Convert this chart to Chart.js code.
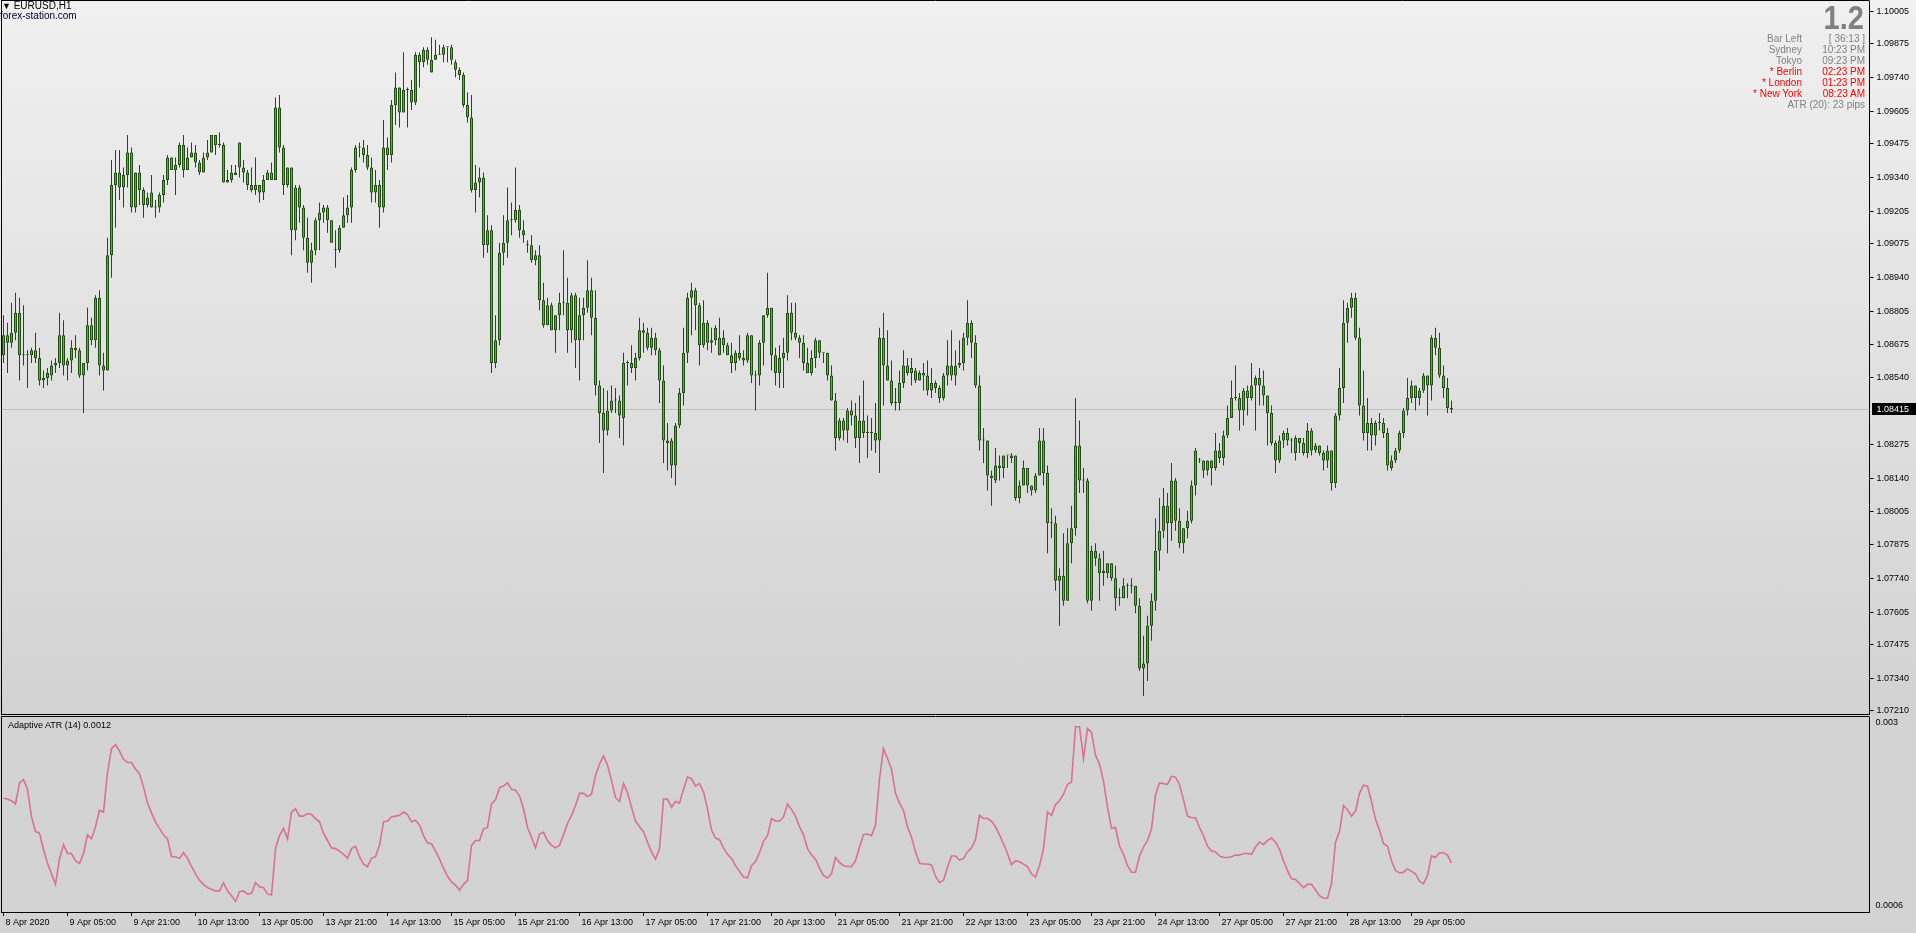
<!DOCTYPE html>
<html>
<head>
<meta charset="utf-8">
<title>EURUSD,H1</title>
<script src="https://cdn.jsdelivr.net/npm/chart.js@4.4.1/dist/chart.umd.min.js"></script>
<style>
  html, body { margin: 0; padding: 0; }
  body {
    width: 1916px; height: 933px; overflow: hidden; position: relative;
    background: #d3d3d3;
    font-family: "Liberation Sans", Arial, sans-serif;
  }
  #bg { position: absolute; left: 0; top: 0; width: 1916px; height: 716px;
        background: linear-gradient(#f0f0f0, #d2d2d2); }
  canvas { position: absolute; left: 0; }
  #priceChart { top: 0; }
  #atrChart { top: 716px; }
  .txt { position: absolute; white-space: nowrap; font-size: 10px; line-height: 11px; }
  .col { position: absolute; text-align: right; font-size: 10px; line-height: 11px; white-space: nowrap; }
  .gray { color: #808080; }
  .red { color: #ff0000; }
</style>
</head>
<body>
<div id="bg"></div>
<canvas id="priceChart" width="1916" height="716"></canvas>
<canvas id="atrChart" width="1916" height="217"></canvas>

<div class="txt" style="left:2px;top:0px;color:#000;"><span style="font-size:9px;">▼</span> EURUSD,H1</div>
<div class="txt" style="left:0px;top:10px;color:#000033;">forex-station.com</div>

<div class="txt" style="right:52px;top:1px;font-size:33px;line-height:34px;font-weight:bold;color:#808080;transform:scaleX(0.88);transform-origin:right center;">1.2</div>
<div class="col" style="right:114px;top:33px;">
  <div class="gray">Bar Left</div>
  <div class="gray">Sydney</div>
  <div class="gray">Tokyo</div>
  <div class="red">* Berlin</div>
  <div class="red">* London</div>
  <div class="red">* New York</div>
</div>
<div class="col" style="right:51px;top:33px;">
  <div class="gray">[ 36:13 ]</div>
  <div class="gray">10:23 PM</div>
  <div class="gray">09:23 PM</div>
  <div class="red">02:23 PM</div>
  <div class="red">01:23 PM</div>
  <div class="red">08:23 AM</div>
  <div class="gray">ATR (20): 23 pips</div>
</div>

<div class="txt" style="left:8px;top:720px;font-size:9px;color:#000;">Adaptive ATR (14) 0.0012</div>

<script>
// hourly bars, 8 Apr 2020 13:00 .. 29 Apr 2020
const opens = [
  1.0863,1.0871,1.0868,1.0872,1.0880,1.0863,1.0863,1.0863,1.0865,1.0862,
  1.0853,1.0854,1.0855,1.0859,1.0860,1.0871,1.0859,1.0861,1.0866,1.0865,
  1.0855,1.0860,1.0875,1.0869,1.0886,1.0859,1.0857,1.0903,1.0931,1.0936,
  1.0930,1.0935,1.0944,1.0922,1.0936,1.0929,1.0923,1.0928,1.0922,1.0922,
  1.0927,1.0933,1.0942,1.0937,1.0939,1.0947,1.0937,1.0942,1.0944,1.0940,
  1.0936,1.0942,1.0944,1.0951,1.0947,1.0947,1.0932,1.0933,1.0935,1.0938,
  1.0938,1.0936,1.0931,1.0929,1.0931,1.0928,1.0933,1.0936,1.0933,1.0962,
  1.0946,1.0931,1.0938,1.0913,1.0930,1.0922,1.0910,1.0900,1.0905,1.0917,
  1.0920,1.0922,1.0917,1.0905,1.0905,1.0914,1.0919,1.0922,1.0937,1.0946,
  1.0946,1.0943,1.0938,1.0928,1.0931,1.0922,1.0946,1.0943,1.0963,1.0970,
  1.0960,1.0969,1.0964,1.0964,1.0983,1.0980,1.0985,1.0976,1.0981,1.0983,
  1.0983,1.0986,1.0986,1.0980,1.0977,1.0975,1.0963,1.0958,1.0929,1.0932,
  1.0934,1.0907,1.0913,1.0860,1.0869,1.0904,1.0908,1.0917,1.0917,1.0921,
  1.0913,1.0907,1.0907,1.0901,1.0903,1.0885,1.0875,1.0883,1.0873,1.0879,
  1.0884,1.0884,1.0873,1.0887,1.0869,1.0879,1.0882,1.0889,1.0878,1.0851,
  1.0840,1.0833,1.0841,1.0845,1.0845,1.0838,1.0860,1.0860,1.0858,1.0862,
  1.0872,1.0872,1.0866,1.0870,1.0865,1.0853,1.0828,1.0829,1.0819,1.0835,
  1.0848,1.0864,1.0886,1.0889,1.0883,1.0867,1.0876,1.0868,1.0869,1.0863,
  1.0870,1.0867,1.0863,1.0860,1.0864,1.0862,1.0861,1.0871,1.0855,1.0855,
  1.0868,1.0879,1.0882,1.0863,1.0856,1.0862,1.0864,1.0880,1.0872,1.0870,
  1.0868,1.0860,1.0856,1.0862,1.0869,1.0864,1.0864,1.0855,1.0845,1.0830,
  1.0837,1.0833,1.0841,1.0839,1.0830,1.0837,1.0832,1.0832,1.0832,1.0829,
  1.0870,1.0859,1.0853,1.0844,1.0844,1.0852,1.0859,1.0858,1.0857,1.0853,
  1.0856,1.0855,1.0849,1.0852,1.0850,1.0846,1.0855,1.0859,1.0855,1.0859,
  1.0860,1.0870,1.0876,1.0868,1.0851,1.0829,1.0829,1.0815,1.0813,1.0819,
  1.0818,1.0823,1.0822,1.0823,1.0806,1.0811,1.0818,1.0811,1.0809,1.0815,
  1.0829,1.0816,1.0796,1.0796,1.0773,1.0775,1.0765,1.0788,1.0794,1.0827,
  1.0813,1.0813,1.0765,1.0785,1.0782,1.0776,1.0776,1.0780,1.0774,1.0766,
  1.0766,1.0771,1.0771,1.0771,1.0763,1.0738,1.0740,1.0755,1.0765,1.0785,
  1.0793,1.0803,1.0796,1.0813,1.0797,1.0788,1.0794,1.0797,1.0811,1.0821,
  1.0821,1.0817,1.0821,1.0818,1.0825,1.0822,1.0831,1.0838,1.0846,1.0846,
  1.0841,1.0849,1.0846,1.0851,1.0854,1.0851,1.0847,1.0840,1.0828,1.0821,
  1.0829,1.0832,1.0829,1.0824,1.0830,1.0828,1.0824,1.0833,1.0825,1.0827,
  1.0824,1.0821,1.0825,1.0812,1.0839,1.0850,1.0876,1.0882,1.0886,1.0870,
  1.0843,1.0832,1.0836,1.0831,1.0836,1.0836,1.0832,1.0818,1.0821,1.0825,
  1.0832,1.0841,1.0846,1.0851,1.0846,1.0849,1.0855,1.0851,1.0870,1.0866,
  1.0855,1.0850,1.0842
];
const highs = [
  1.0879,1.0876,1.0884,1.0888,1.0886,1.0883,1.0865,1.0866,1.0872,1.0866,
  1.0857,1.0858,1.0861,1.0862,1.0880,1.0877,1.0862,1.0869,1.0871,1.0866,
  1.0860,1.0882,1.0878,1.0887,1.0889,1.0864,1.0910,1.0941,1.0945,1.0945,
  1.0938,1.0951,1.0946,1.0936,1.0939,1.0930,1.0928,1.0935,1.0925,1.0928,
  1.0935,1.0943,1.0942,1.0942,1.0948,1.0951,1.0946,1.0948,1.0947,1.0941,
  1.0944,1.0949,1.0951,1.0951,1.0952,1.0948,1.0937,1.0939,1.0939,1.0948,
  1.0941,1.0937,1.0938,1.0942,1.0931,1.0935,1.0937,1.0940,1.0966,1.0967,
  1.0947,1.0938,1.0938,1.0931,1.0931,1.0923,1.0918,1.0908,1.0918,1.0924,
  1.0923,1.0923,1.0917,1.0913,1.0915,1.0926,1.0927,1.0938,1.0947,1.0948,
  1.0949,1.0947,1.0942,1.0937,1.0933,1.0957,1.0950,1.0965,1.0976,1.0970,
  1.0984,1.0970,1.0973,1.0984,1.0984,1.0986,1.0986,1.0990,1.0989,1.0987,
  1.0987,1.0986,1.0987,1.0981,1.0978,1.0976,1.0968,1.0967,1.0939,1.0938,
  1.0936,1.0919,1.0915,1.0879,1.0908,1.0919,1.0930,1.0924,1.0938,1.0923,
  1.0917,1.0909,1.0911,1.0905,1.0907,1.0892,1.0886,1.0884,1.0879,1.0888,
  1.0905,1.0894,1.0888,1.0888,1.0886,1.0886,1.0901,1.0894,1.0889,1.0853,
  1.0850,1.0849,1.0851,1.0850,1.0847,1.0864,1.0861,1.0867,1.0864,1.0878,
  1.0876,1.0874,1.0874,1.0872,1.0866,1.0859,1.0836,1.0830,1.0836,1.0850,
  1.0874,1.0888,1.0892,1.0890,1.0884,1.0885,1.0877,1.0874,1.0875,1.0878,
  1.0873,1.0868,1.0868,1.0865,1.0871,1.0865,1.0872,1.0871,1.0857,1.0869,
  1.0879,1.0896,1.0882,1.0866,1.0867,1.0870,1.0887,1.0884,1.0884,1.0871,
  1.0871,1.0866,1.0865,1.0870,1.0869,1.0864,1.0864,1.0859,1.0848,1.0838,
  1.0838,1.0842,1.0845,1.0844,1.0847,1.0853,1.0839,1.0838,1.0844,1.0874,
  1.0880,1.0873,1.0861,1.0850,1.0857,1.0865,1.0862,1.0862,1.0858,1.0857,
  1.0860,1.0861,1.0858,1.0853,1.0851,1.0856,1.0869,1.0873,1.0865,1.0869,
  1.0872,1.0885,1.0877,1.0871,1.0855,1.0834,1.0829,1.0817,1.0826,1.0823,
  1.0823,1.0823,1.0824,1.0823,1.0813,1.0821,1.0818,1.0811,1.0816,1.0834,
  1.0834,1.0819,1.0802,1.0799,1.0778,1.0792,1.0794,1.0803,1.0846,1.0837,
  1.0818,1.0814,1.0787,1.0788,1.0784,1.0785,1.0780,1.0780,1.0779,1.0770,
  1.0774,1.0772,1.0774,1.0771,1.0766,1.0751,1.0759,1.0768,1.0798,1.0806,
  1.0810,1.0808,1.0820,1.0814,1.0802,1.0794,1.0801,1.0813,1.0826,1.0822,
  1.0821,1.0821,1.0821,1.0832,1.0828,1.0833,1.0843,1.0853,1.0859,1.0848,
  1.0850,1.0851,1.0860,1.0855,1.0858,1.0857,1.0847,1.0843,1.0829,1.0831,
  1.0833,1.0834,1.0830,1.0831,1.0830,1.0830,1.0836,1.0834,1.0828,1.0827,
  1.0825,1.0827,1.0825,1.0840,1.0858,1.0885,1.0884,1.0888,1.0888,1.0874,
  1.0857,1.0846,1.0838,1.0837,1.0840,1.0838,1.0834,1.0823,1.0826,1.0833,
  1.0842,1.0854,1.0853,1.0851,1.0850,1.0856,1.0855,1.0871,1.0874,1.0872,
  1.0859,1.0854,1.0845
];
const lows = [
  1.0860,1.0856,1.0866,1.0869,1.0853,1.0859,1.0850,1.0860,1.0860,1.0851,
  1.0850,1.0851,1.0853,1.0856,1.0858,1.0855,1.0853,1.0856,1.0862,1.0854,
  1.0840,1.0857,1.0867,1.0866,1.0855,1.0849,1.0857,1.0894,1.0914,1.0925,
  1.0922,1.0930,1.0920,1.0920,1.0923,1.0918,1.0922,1.0922,1.0918,1.0920,
  1.0924,1.0931,1.0937,1.0927,1.0938,1.0934,1.0937,1.0942,1.0938,1.0935,
  1.0936,1.0941,1.0944,1.0943,1.0946,1.0932,1.0932,1.0932,1.0935,1.0934,
  1.0932,1.0929,1.0928,1.0927,1.0924,1.0925,1.0933,1.0933,1.0933,1.0944,
  1.0927,1.0930,1.0903,1.0909,1.0916,1.0905,1.0896,1.0892,1.0903,1.0905,
  1.0916,1.0912,1.0908,1.0898,1.0904,1.0914,1.0916,1.0916,1.0936,1.0942,
  1.0940,1.0937,1.0924,1.0924,1.0914,1.0920,1.0937,1.0940,1.0955,1.0954,
  1.0960,1.0954,1.0961,1.0963,1.0970,1.0978,1.0979,1.0976,1.0981,1.0983,
  1.0980,1.0980,1.0979,1.0974,1.0973,1.0962,1.0956,1.0928,1.0920,1.0926,
  1.0902,1.0904,1.0856,1.0858,1.0867,1.0899,1.0902,1.0911,1.0916,1.0910,
  1.0908,1.0904,1.0900,1.0899,1.0881,1.0874,1.0875,1.0873,1.0864,1.0873,
  1.0879,1.0864,1.0868,1.0858,1.0853,1.0869,1.0880,1.0871,1.0847,1.0828,
  1.0816,1.0831,1.0840,1.0840,1.0830,1.0827,1.0851,1.0856,1.0853,1.0861,
  1.0864,1.0865,1.0863,1.0863,1.0844,1.0820,1.0817,1.0814,1.0811,1.0834,
  1.0843,1.0860,1.0871,1.0873,1.0859,1.0866,1.0865,1.0864,1.0867,1.0863,
  1.0864,1.0863,1.0856,1.0857,1.0861,1.0859,1.0860,1.0852,1.0841,1.0851,
  1.0859,1.0878,1.0857,1.0851,1.0850,1.0850,1.0861,1.0869,1.0869,1.0862,
  1.0857,1.0856,1.0855,1.0858,1.0862,1.0860,1.0853,1.0845,1.0825,1.0829,
  1.0829,1.0828,1.0835,1.0826,1.0820,1.0830,1.0822,1.0825,1.0824,1.0816,
  1.0843,1.0853,1.0843,1.0841,1.0841,1.0850,1.0855,1.0851,1.0852,1.0853,
  1.0849,1.0847,1.0846,1.0848,1.0844,1.0845,1.0851,1.0853,1.0851,1.0858,
  1.0857,1.0867,1.0862,1.0850,1.0825,1.0820,1.0809,1.0803,1.0812,1.0813,
  1.0814,1.0818,1.0820,1.0805,1.0804,1.0811,1.0808,1.0807,1.0808,1.0815,
  1.0811,1.0784,1.0790,1.0769,1.0755,1.0763,1.0765,1.0780,1.0791,1.0808,
  1.0808,1.0764,1.0761,1.0779,1.0765,1.0771,1.0774,1.0773,1.0761,1.0763,
  1.0766,1.0766,1.0768,1.0760,1.0737,1.0727,1.0733,1.0749,1.0761,1.0777,
  1.0790,1.0784,1.0789,1.0793,1.0786,1.0784,1.0790,1.0796,1.0807,1.0820,
  1.0814,1.0815,1.0811,1.0817,1.0820,1.0819,1.0830,1.0838,1.0845,1.0833,
  1.0835,1.0839,1.0845,1.0833,1.0843,1.0843,1.0827,1.0827,1.0816,1.0820,
  1.0826,1.0827,1.0824,1.0821,1.0824,1.0823,1.0822,1.0823,1.0824,1.0823,
  1.0817,1.0818,1.0809,1.0810,1.0837,1.0844,1.0868,1.0878,1.0869,1.0839,
  1.0829,1.0825,1.0825,1.0827,1.0833,1.0830,1.0817,1.0817,1.0820,1.0824,
  1.0830,1.0839,1.0844,1.0841,1.0843,1.0848,1.0839,1.0845,1.0863,1.0854,
  1.0846,1.0840,1.0840
];
const closes = [
  1.0871,1.0868,1.0872,1.0880,1.0863,1.0863,1.0863,1.0865,1.0862,1.0853,
  1.0854,1.0856,1.0859,1.0860,1.0871,1.0859,1.0861,1.0866,1.0865,1.0855,
  1.0860,1.0875,1.0869,1.0886,1.0859,1.0857,1.0903,1.0931,1.0936,1.0930,
  1.0935,1.0944,1.0922,1.0936,1.0929,1.0923,1.0926,1.0922,1.0922,1.0927,
  1.0933,1.0942,1.0937,1.0939,1.0947,1.0937,1.0942,1.0944,1.0940,1.0936,
  1.0942,1.0944,1.0951,1.0947,1.0947,1.0932,1.0933,1.0936,1.0936,1.0948,
  1.0936,1.0931,1.0929,1.0931,1.0928,1.0933,1.0936,1.0933,1.0962,1.0946,
  1.0931,1.0938,1.0913,1.0930,1.0922,1.0910,1.0900,1.0905,1.0917,1.0920,
  1.0922,1.0917,1.0908,1.0905,1.0914,1.0919,1.0922,1.0937,1.0946,1.0946,
  1.0943,1.0938,1.0928,1.0931,1.0922,1.0946,1.0943,1.0963,1.0970,1.0960,
  1.0969,1.0969,1.0969,1.0983,1.0980,1.0985,1.0981,1.0981,1.0983,1.0983,
  1.0986,1.0986,1.0981,1.0977,1.0975,1.0963,1.0958,1.0929,1.0932,1.0934,
  1.0907,1.0913,1.0860,1.0869,1.0904,1.0908,1.0917,1.0917,1.0921,1.0913,
  1.0911,1.0907,1.0901,1.0903,1.0885,1.0875,1.0883,1.0873,1.0879,1.0884,
  1.0884,1.0873,1.0887,1.0869,1.0879,1.0882,1.0889,1.0878,1.0851,1.0840,
  1.0833,1.0841,1.0845,1.0845,1.0839,1.0860,1.0860,1.0858,1.0862,1.0873,
  1.0873,1.0866,1.0870,1.0865,1.0853,1.0829,1.0829,1.0819,1.0835,1.0848,
  1.0864,1.0886,1.0889,1.0883,1.0867,1.0876,1.0868,1.0869,1.0874,1.0870,
  1.0867,1.0863,1.0860,1.0864,1.0862,1.0861,1.0871,1.0855,1.0855,1.0868,
  1.0879,1.0882,1.0863,1.0856,1.0862,1.0864,1.0880,1.0872,1.0870,1.0868,
  1.0860,1.0856,1.0862,1.0869,1.0864,1.0864,1.0855,1.0845,1.0830,1.0837,
  1.0833,1.0841,1.0839,1.0830,1.0837,1.0832,1.0832,1.0832,1.0829,1.0870,
  1.0859,1.0853,1.0844,1.0844,1.0852,1.0859,1.0856,1.0856,1.0853,1.0856,
  1.0855,1.0849,1.0852,1.0850,1.0846,1.0855,1.0859,1.0855,1.0859,1.0860,
  1.0870,1.0876,1.0868,1.0851,1.0829,1.0829,1.0815,1.0814,1.0819,1.0818,
  1.0823,1.0823,1.0823,1.0806,1.0811,1.0818,1.0811,1.0809,1.0815,1.0829,
  1.0816,1.0796,1.0796,1.0773,1.0775,1.0765,1.0788,1.0794,1.0827,1.0813,
  1.0813,1.0765,1.0785,1.0782,1.0776,1.0777,1.0780,1.0774,1.0766,1.0766,
  1.0771,1.0771,1.0771,1.0763,1.0738,1.0740,1.0755,1.0765,1.0785,1.0793,
  1.0803,1.0796,1.0813,1.0797,1.0788,1.0794,1.0797,1.0811,1.0825,1.0821,
  1.0817,1.0821,1.0818,1.0825,1.0822,1.0831,1.0838,1.0846,1.0846,1.0841,
  1.0849,1.0846,1.0851,1.0854,1.0851,1.0847,1.0840,1.0828,1.0821,1.0829,
  1.0832,1.0829,1.0829,1.0830,1.0828,1.0824,1.0833,1.0825,1.0827,1.0824,
  1.0821,1.0825,1.0812,1.0839,1.0850,1.0876,1.0882,1.0886,1.0870,1.0843,
  1.0832,1.0836,1.0831,1.0836,1.0836,1.0832,1.0819,1.0821,1.0825,1.0832,
  1.0841,1.0846,1.0851,1.0846,1.0849,1.0855,1.0851,1.0870,1.0866,1.0855,
  1.0850,1.0842,1.08415
];
// Adaptive ATR (14)
const atr = [
  0.00200,0.00199,0.00197,0.00193,0.00219,0.00223,0.00211,0.00177,0.00159,0.00157,
  0.00137,0.00120,0.00107,0.00094,0.00125,0.00143,0.00132,0.00132,0.00123,0.00120,
  0.00132,0.00155,0.00150,0.00165,0.00185,0.00183,0.00232,0.00261,0.00266,0.00258,
  0.00248,0.00244,0.00244,0.00236,0.00230,0.00214,0.00194,0.00182,0.00171,0.00163,
  0.00155,0.00150,0.00128,0.00128,0.00126,0.00133,0.00126,0.00116,0.00107,0.00099,
  0.00094,0.00090,0.00088,0.00086,0.00086,0.00096,0.00086,0.00080,0.00073,0.00085,
  0.00086,0.00082,0.00083,0.00096,0.00091,0.00090,0.00082,0.00081,0.00138,0.00154,
  0.00163,0.00150,0.00183,0.00187,0.00178,0.00178,0.00181,0.00180,0.00175,0.00171,
  0.00157,0.00148,0.00139,0.00138,0.00135,0.00131,0.00126,0.00138,0.00141,0.00128,
  0.00119,0.00116,0.00126,0.00128,0.00142,0.00171,0.00172,0.00177,0.00178,0.00179,
  0.00183,0.00180,0.00171,0.00173,0.00167,0.00154,0.00145,0.00144,0.00135,0.00125,
  0.00114,0.00104,0.00097,0.00093,0.00087,0.00094,0.00099,0.00142,0.00148,0.00148,
  0.00162,0.00164,0.00193,0.00198,0.00213,0.00215,0.00219,0.00211,0.00210,0.00203,
  0.00187,0.00164,0.00152,0.00139,0.00156,0.00158,0.00148,0.00142,0.00139,0.00142,
  0.00155,0.00169,0.00179,0.00191,0.00206,0.00206,0.00202,0.00205,0.00228,0.00242,
  0.00252,0.00241,0.00222,0.00201,0.00196,0.00218,0.00207,0.00189,0.00172,0.00165,
  0.00159,0.00146,0.00134,0.00125,0.00138,0.00199,0.00199,0.00189,0.00196,0.00194,
  0.00211,0.00226,0.00224,0.00215,0.00218,0.00208,0.00187,0.00161,0.00151,0.00149,
  0.00139,0.00131,0.00126,0.00117,0.00110,0.00103,0.00102,0.00117,0.00122,0.00133,
  0.00147,0.00154,0.00175,0.00172,0.00172,0.00177,0.00193,0.00186,0.00178,0.00165,
  0.00155,0.00138,0.00130,0.00125,0.00114,0.00105,0.00102,0.00107,0.00127,0.00121,
  0.00117,0.00116,0.00116,0.00123,0.00140,0.00155,0.00156,0.00154,0.00167,0.00224,
  0.00261,0.00249,0.00236,0.00206,0.00194,0.00185,0.00165,0.00152,0.00134,0.00120,
  0.00119,0.00119,0.00118,0.00104,0.00096,0.00099,0.00115,0.00129,0.00129,0.00124,
  0.00126,0.00134,0.00139,0.00149,0.00179,0.00175,0.00175,0.00172,0.00165,0.00155,
  0.00144,0.00132,0.00118,0.00123,0.00122,0.00119,0.00116,0.00107,0.00103,0.00117,
  0.00138,0.00183,0.00179,0.00192,0.00197,0.00205,0.00217,0.00220,0.00288,0.00288,
  0.00249,0.00286,0.00281,0.00253,0.00242,0.00221,0.00189,0.00163,0.00164,0.00141,
  0.00131,0.00117,0.00109,0.00109,0.00129,0.00140,0.00148,0.00162,0.00204,0.00219,
  0.00218,0.00217,0.00227,0.00226,0.00217,0.00198,0.00178,0.00176,0.00176,0.00164,
  0.00154,0.00141,0.00135,0.00134,0.00129,0.00127,0.00127,0.00128,0.00130,0.00130,
  0.00132,0.00132,0.00131,0.00140,0.00146,0.00143,0.00148,0.00151,0.00146,0.00137,
  0.00123,0.00111,0.00101,0.00100,0.00095,0.00090,0.00094,0.00094,0.00087,0.00080,
  0.00077,0.00077,0.00095,0.00146,0.00159,0.00191,0.00186,0.00178,0.00184,0.00206,
  0.00216,0.00215,0.00196,0.00174,0.00161,0.00144,0.00141,0.00123,0.00111,0.00108,
  0.00109,0.00113,0.00110,0.00107,0.00098,0.00095,0.00105,0.00129,0.00127,0.00133,
  0.00133,0.00130,0.00120
];
const priceTicks = [1.10005,1.09875,1.09740,1.09605,1.09475,1.09340,1.09205,1.09075,1.08940,1.08805,
  1.08675,1.08540,1.08275,1.08140,1.08005,1.07875,1.07740,1.07605,1.07475,1.07340,1.07210];
const timeLabels = ['8 Apr 2020','9 Apr 05:00','9 Apr 21:00','10 Apr 13:00','13 Apr 05:00','13 Apr 21:00',
  '14 Apr 13:00','15 Apr 05:00','15 Apr 21:00','16 Apr 13:00','17 Apr 05:00','17 Apr 21:00','20 Apr 13:00',
  '21 Apr 05:00','21 Apr 21:00','22 Apr 13:00','23 Apr 05:00','23 Apr 21:00','24 Apr 13:00','27 Apr 05:00',
  '27 Apr 21:00','28 Apr 13:00','29 Apr 05:00'];
const barsPerLabel = 16;
const bidPrice = 1.08415;

const BULL = '#3fbf2a';
const BEAR = '#d8734c';
const EDGE = '#1f4d12';
const ATR_COLOR = '#db7093';
const FONT = '"Liberation Sans", Arial, sans-serif';

Chart.defaults.font.family = FONT;

// chart window holds 467 bar slots (empty shift space on the right)
const slotCount = 467;
const slots = Array.from({length: slotCount}, (_, i) => i);

const priceDecor = {
  id: 'priceDecor',
  beforeDatasetsDraw(chart) {
    const {ctx, chartArea: a} = chart;
    const y = Math.round(chart.scales.y.getPixelForValue(bidPrice)) + 0.5;
    ctx.save();
    ctx.strokeStyle = '#c0c0c0';
    ctx.lineWidth = 1;
    ctx.beginPath();
    ctx.moveTo(a.left, y);
    ctx.lineTo(a.right, y);
    ctx.stroke();
    ctx.restore();
  },
  afterDraw(chart) {
    const {ctx, chartArea: a} = chart;
    ctx.save();
    ctx.strokeStyle = '#000';
    ctx.lineWidth = 1;
    ctx.beginPath();
    ctx.moveTo(a.left, 0.5); ctx.lineTo(a.right, 0.5);
    ctx.moveTo(a.left, a.bottom + 0.5); ctx.lineTo(a.right, a.bottom + 0.5);
    ctx.moveTo(a.left, 0); ctx.lineTo(a.left, a.bottom + 1);
    ctx.stroke();
    const y = Math.round(chart.scales.y.getPixelForValue(bidPrice));
    ctx.fillStyle = '#000';
    ctx.fillRect(a.right + 2.5, y - 6, 46, 12);
    ctx.fillStyle = '#fff';
    ctx.font = '9px ' + FONT;
    ctx.textBaseline = 'middle';
    ctx.fillText(bidPrice.toFixed(5), a.right + 7, y + 0.5);
    ctx.restore();
  }
};

new Chart(document.getElementById('priceChart'), {
  type: 'bar',
  data: {
    labels: slots,
    datasets: [
      {
        label: 'body',
        data: opens.map((o, i) => [o, closes[i]]),
        backgroundColor: opens.map((o, i) => closes[i] >= o ? BULL : BEAR),
        borderColor: EDGE,
        borderWidth: 1,
        borderSkipped: false,
        inflateAmount: 0,
        barThickness: 3,
        minBarLength: 1,
        grouped: false,
        order: 0
      },
      {
        label: 'wick',
        data: lows.map((l, i) => [l, highs[i]]),
        backgroundColor: EDGE,
        borderWidth: 0,
        inflateAmount: 0,
        barThickness: 1,
        grouped: false,
        order: 1
      }
    ]
  },
  options: {
    responsive: false,
    animation: false,
    devicePixelRatio: 1,
    layout: { padding: { left: 1.5, top: 1, right: 0, bottom: 2 } },
    plugins: { legend: { display: false }, tooltip: { enabled: false } },
    scales: {
      x: { display: false, offset: true },
      y: {
        position: 'right',
        min: 1.07198,
        max: 1.10045,
        afterBuildTicks: s => { s.ticks = priceTicks.map(v => ({ value: v })); },
        afterFit: s => { s.width = 46.5; s.paddingTop = 0; s.paddingBottom = 0; },
        ticks: {
          autoSkip: false,
          color: '#000',
          padding: 3,
          font: { size: 9 },
          callback: v => Number(v).toFixed(5)
        },
        grid: { drawOnChartArea: false, drawTicks: true, tickLength: 4, color: '#000' },
        border: { color: '#000' }
      }
    }
  },
  plugins: [priceDecor]
});

const atrDecor = {
  id: 'atrDecor',
  afterDraw(chart) {
    const {ctx, chartArea: a, scales: {y}} = chart;
    ctx.save();
    ctx.strokeStyle = '#000';
    ctx.lineWidth = 1;
    ctx.beginPath();
    ctx.moveTo(a.left, 0.5); ctx.lineTo(a.right, 0.5);
    ctx.moveTo(a.left, 0); ctx.lineTo(a.left, a.bottom);
    ctx.stroke();
    ctx.fillStyle = '#000';
    ctx.font = '9px ' + FONT;
    ctx.textBaseline = 'middle';
    ctx.fillText(String(y.max), a.right + 6, a.top + 6);
    ctx.fillText(String(y.min), a.right + 6, a.bottom - 6);
    ctx.restore();
  }
};

new Chart(document.getElementById('atrChart'), {
  type: 'line',
  data: {
    labels: slots,
    datasets: [{
      label: 'Adaptive ATR (14)',
      data: atr,
      borderColor: ATR_COLOR,
      borderWidth: 1.6,
      pointRadius: 0,
      tension: 0,
      fill: false
    }]
  },
  options: {
    responsive: false,
    animation: false,
    devicePixelRatio: 1,
    layout: { padding: { left: 1.5, top: 1, right: 0, bottom: 0 } },
    plugins: { legend: { display: false }, tooltip: { enabled: false } },
    scales: {
      x: {
        offset: true,
        afterBuildTicks: s => { s.ticks = timeLabels.map((_, k) => ({ value: k * barsPerLabel })); },
        afterFit: s => { s.height = 21; s.paddingLeft = 0; s.paddingRight = 0; },
        ticks: {
          autoSkip: false,
          maxRotation: 0,
          minRotation: 0,
          align: 'start',
          labelOffset: 2,
          padding: 1,
          color: '#000',
          font: { size: 9 },
          callback: (v, i) => timeLabels[i]
        },
        grid: { drawOnChartArea: false, drawTicks: true, tickLength: 4, color: '#000', offset: false },
        border: { color: '#000' }
      },
      y: {
        position: 'right',
        min: 0.0006,
        max: 0.003,
        afterFit: s => { s.width = 46.5; s.paddingTop = 0; s.paddingBottom = 0; },
        ticks: { display: false },
        grid: { display: false },
        border: { color: '#000' }
      }
    }
  },
  plugins: [atrDecor]
});
</script>
</body>
</html>
